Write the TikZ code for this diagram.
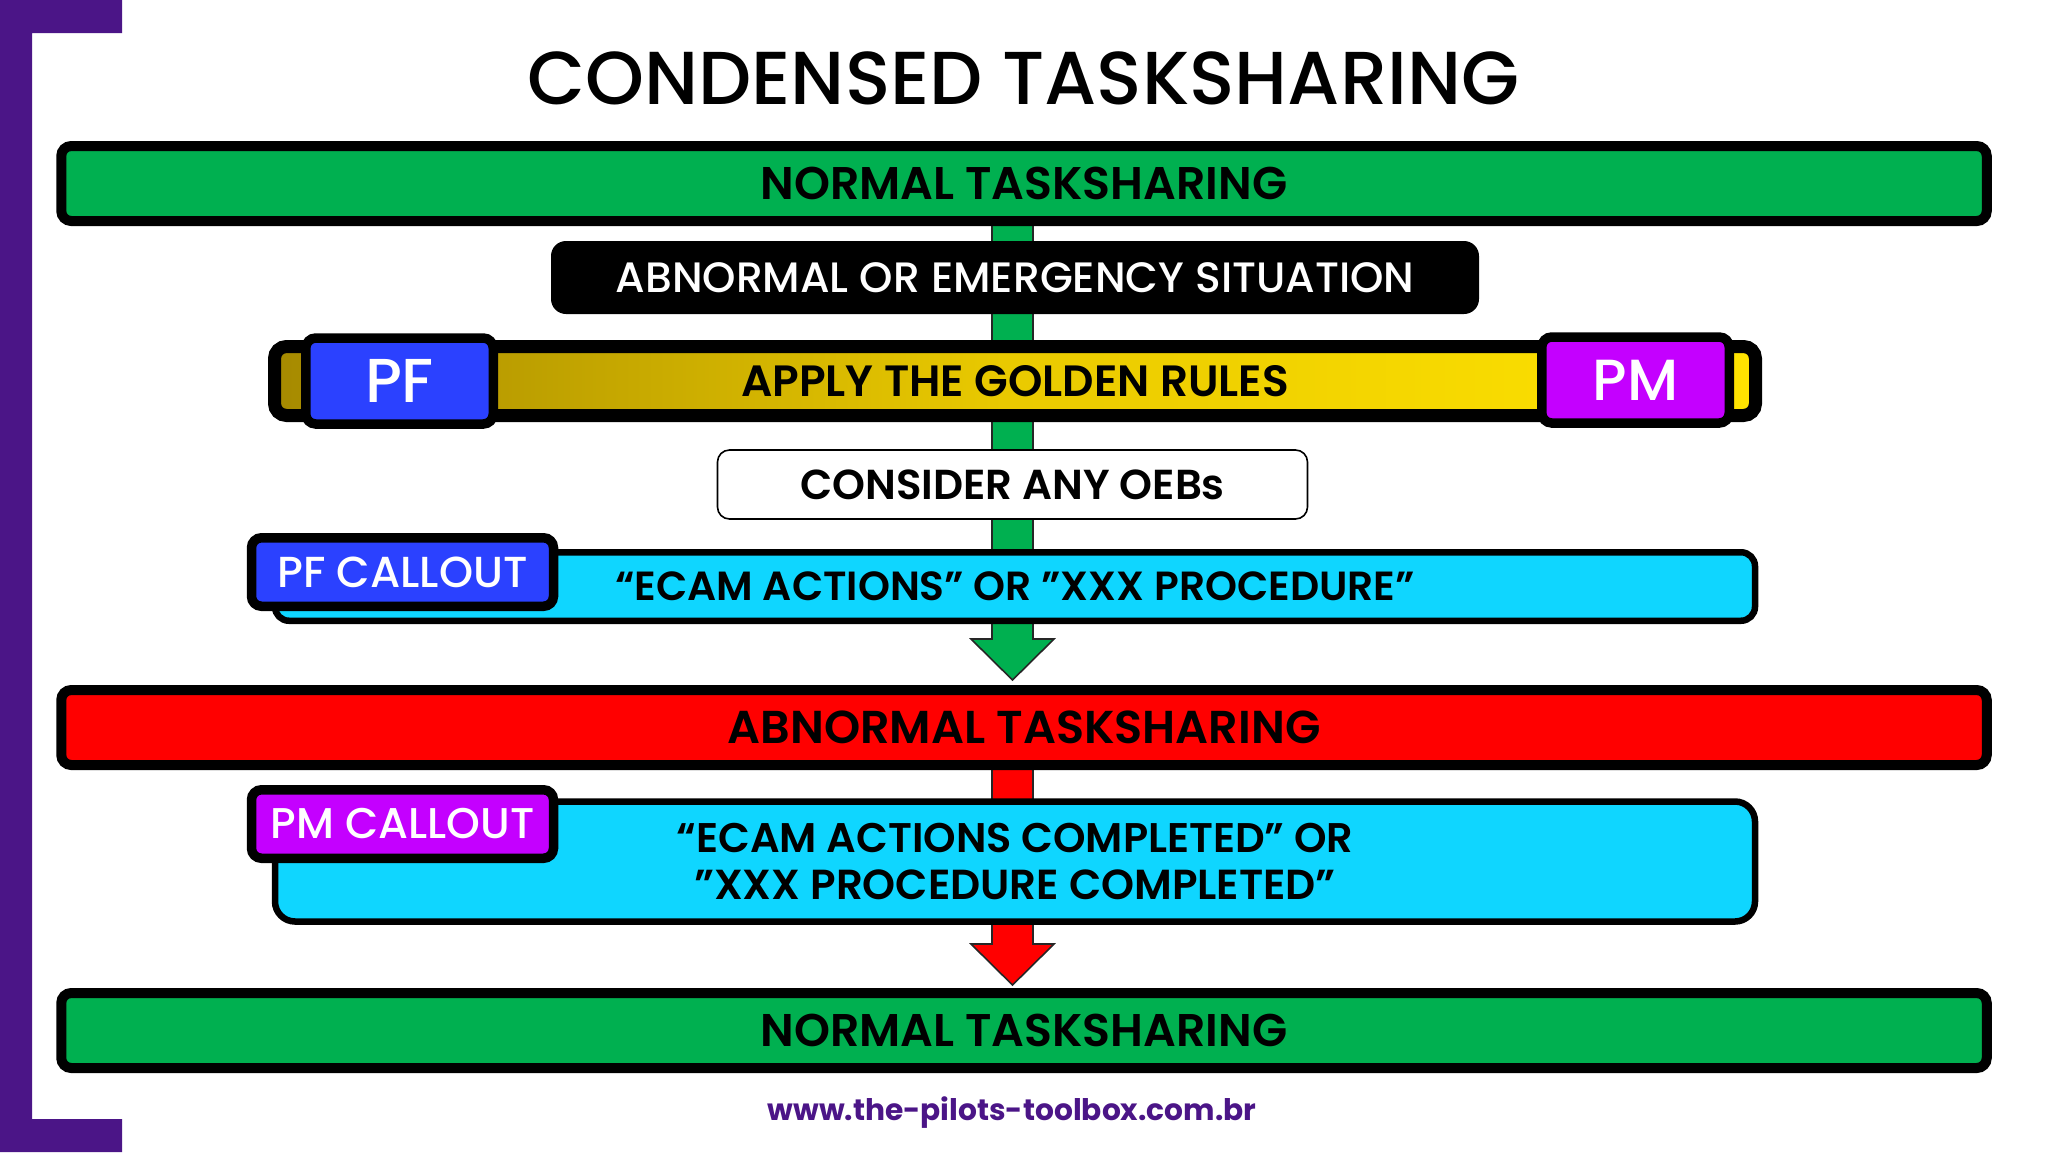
\documentclass[tikz,border=0pt]{standalone}
\usepackage{fontspec}
\setmainfont{Poppins}[UprightFont={* Medium},BoldFont={* Bold}]
\newfontfamily\semi{Poppins SemiBold}
\usetikzlibrary{calc,backgrounds}
\definecolor{brandpurple}{HTML}{4B1587}
\definecolor{tgreen}{HTML}{00B050}
\definecolor{tred}{HTML}{FF0000}
\definecolor{pfblue}{HTML}{2B41FF}
\definecolor{pmpurple}{HTML}{C400FF}
\definecolor{tcyan}{HTML}{0FD6FF}
\definecolor{golddark}{HTML}{A68A00}
\definecolor{goldmid}{HTML}{EACA00}
\definecolor{goldlight}{HTML}{FFE300}
\tikzset{
  box/.style={draw=black,rounded corners=#1,inner sep=0pt,outer sep=0pt,align=center,text=black},
  bigbar/.style={box=10pt,line width=10pt,minimum width=1925.5pt,minimum height=75pt,font=\semi\fontsize{45.8}{50}\selectfont},
  tag/.style={box=10pt,line width=9.5pt,text=white},
  shaft/.style={draw=black!85,line width=1.6pt,line join=miter},
}
\newcommand{\blockarrow}[3]{% from, tip, fill
  \draw[shaft,fill=#3] ($(#1)+(-20.5,0)$) -- ($(#1)+(20.5,0)$) -- ($(#2)+(20.5,-41)$) -- ($(#2)+(41.5,-41)$) -- (#2)
    -- ($(#2)+(-41.5,-41)$) -- ($(#2)+(-20.5,-41)$) -- cycle;}
\begin{document}
\begin{tikzpicture}[x=1pt,y=-1pt]
\useasboundingbox (0,0) rectangle (2048,1152);
\fill[brandpurple] (0,0) -- (122,0) -- (122,33) -- (32,33) -- (32,1119) -- (122,1119) -- (122,1152) -- (0,1152) -- cycle;
\node[text=black,font=\fontsize{75}{80}\selectfont] (title) at (1023.5,78) {CONDENSED TASKSHARING};
\node[bigbar,fill=tgreen] (normtop) at (1024,183.5) {NORMAL TASKSHARING};
\node[box=15pt,draw=none,fill=black,text=white,minimum width=928pt,minimum height=73pt,font=\fontsize{42.5}{45}\selectfont] (abn) at (1015,277.5) {ABNORMAL OR EMERGENCY SITUATION};
\node[box=12pt,line width=13pt,left color=golddark,right color=goldlight,middle color=goldmid,minimum width=1481pt,minimum height=69pt,font=\semi\fontsize{43.8}{47}\selectfont] (gold) at (1015,381) {APPLY THE GOLDEN RULES};
\node[tag,fill=pfblue,minimum width=187.5pt,minimum height=86pt,font=\fontsize{62}{64}\selectfont] (pf) at (399.5,381) {PF};
\node[tag,fill=pmpurple,minimum width=187.5pt,minimum height=86pt,font=\fontsize{58}{60}\selectfont] (pm) at (1635.5,380) {PM};
\node[box=12pt,line width=1.6pt,fill=white,minimum width=590pt,minimum height=69pt,font=\semi\fontsize{41.9}{45}\selectfont] (oeb) at (1012.5,484.5) {CONSIDER ANY OEBs};
\node[box=14pt,line width=6.5pt,fill=tcyan,minimum width=1480pt,minimum height=68.5pt,font=\semi\fontsize{40.7}{44}\selectfont] (ecam) at (1015,586.5) {“ECAM ACTIONS” OR ”XXX PROCEDURE”};
\node[tag,fill=pfblue,minimum width=302pt,minimum height=68.5pt,font=\fontsize{43.4}{46}\selectfont] (pfc) at (402.5,572) {PF CALLOUT};
\node[bigbar,fill=tred,font=\semi\fontsize{46.1}{50}\selectfont] (abnbar) at (1024,727.5) {ABNORMAL TASKSHARING};
\node[box=20pt,line width=6.5pt,fill=tcyan,minimum width=1480pt,minimum height=120pt,font=\semi\fontsize{41.4}{47}\selectfont] (ecamdone) at (1015,861.5) {“ECAM ACTIONS COMPLETED” OR\\{\fontsize{42}{47}\selectfont ”XXX PROCEDURE COMPLETED”}};
\node[tag,fill=pmpurple,minimum width=302pt,minimum height=68.5pt,font=\fontsize{43}{46}\selectfont] (pmc) at (402.5,824) {PM CALLOUT};
\node[bigbar,fill=tgreen] (normbot) at (1024,1030.5) {NORMAL TASKSHARING};
\node[text=brandpurple,font=\bfseries\fontsize{29.7}{32}\selectfont] (url) at (1012,1113) {www.the-pilots-toolbox.com.br};
\coordinate (greentip) at (1012.5,680);
\coordinate (redtip) at (1012.5,985);
\coordinate (greenstart) at (normtop.south -| greentip);
\coordinate (redstart) at (abnbar.south -| greentip);
\coordinate (redstart2) at (ecamdone.south -| greentip);
\coordinate (redend) at (ecamdone.north -| greentip);
\begin{pgfonlayer}{background}
\blockarrow{greenstart}{greentip}{tgreen}
\draw[shaft,fill=tred] ($(redstart)+(-20.5,0)$) rectangle ($(redend)+(20.5,0)$);
\blockarrow{redstart2}{redtip}{tred}
\end{pgfonlayer}
\end{tikzpicture}
\end{document}
